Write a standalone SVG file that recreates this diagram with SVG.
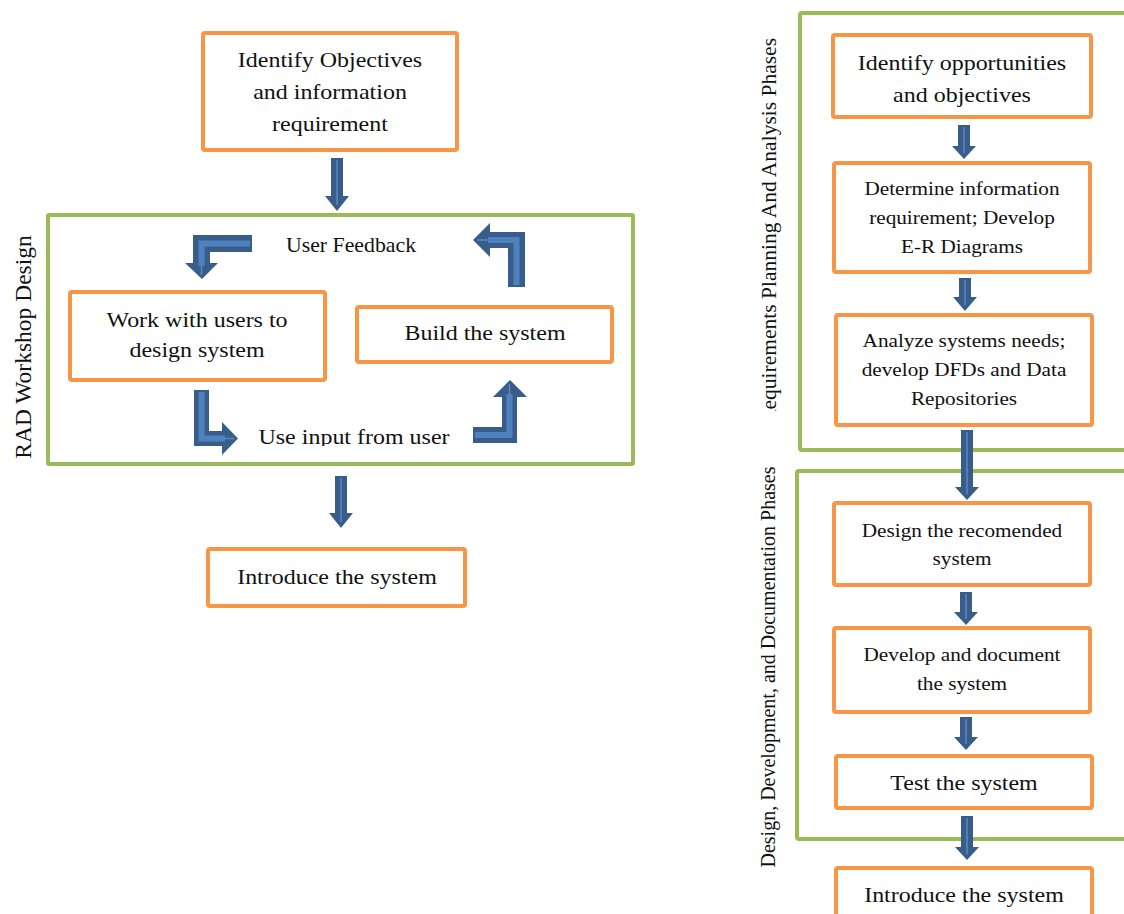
<svg xmlns="http://www.w3.org/2000/svg" width="1124" height="914" viewBox="0 0 1124 914">
<style>
.box{fill:#fff;stroke:#F79646;stroke-width:4}
.grp{fill:none;stroke:#9BBB59;stroke-width:4}
.t{font-family:"Liberation Serif","Times New Roman",serif;fill:#111;text-anchor:middle}
.f22{font-size:22px}
.f20{font-size:20px}
.f19{font-size:19.5px}
.arr{fill:#385D8A}
.str{fill:none;stroke:#4F81BD;stroke-width:6;stroke-linejoin:miter}
.ln{fill:none;stroke:#5B87C2;stroke-width:1.5}
</style>
<defs>
<clipPath id="clipReq"><rect x="740" y="0" width="60" height="411"/></clipPath>
<clipPath id="clipUse"><rect x="240" y="400" width="240" height="46"/></clipPath>
</defs>
<rect width="1124" height="914" fill="#fff"/>

<g id="groups">
<rect id="rad-group" class="grp" x="48" y="215" width="585" height="249" rx="1"/>
<rect id="req-group" class="grp" x="800" y="13" width="340" height="437" rx="2"/>
<rect id="dev-group" class="grp" x="797" y="471" width="343" height="368" rx="2"/>
</g>

<g id="labels">
<text class="t" font-size="23.5" transform="translate(31 347) rotate(-90)">RAD Workshop Design</text>
<g clip-path="url(#clipReq)"><text class="t" font-size="21.5" style="text-anchor:end" transform="translate(776 38) rotate(-90)">Requirements Planning And Analysis Phases</text></g>
<text class="t" font-size="20" transform="translate(775 667) rotate(-90)">Design, Development, and Documentation Phases</text>
</g>

<g id="connectors">
<polygon class="arr" points="331,158 343,158 343,196 349,196 337,211 325,196 331,196"/>
<line class="ln" x1="337" y1="160" x2="337" y2="205"/>
<polygon class="arr" points="335,476 347,476 347,513 353,513 341,528 329,513 335,513"/>
<line class="ln" x1="341" y1="478" x2="341" y2="522"/>
<polygon class="arr" points="252,235 252,252 210,252 210,263 218,263 202,279 185,263 193,263 193,235"/>
<polyline class="str" points="250,243.5 201.5,243.5 201.5,266"/>
<line class="ln" x1="201.5" y1="266" x2="201.5" y2="275"/>
<polygon class="arr" points="508,287 525,287 525,232 490,232 490,223 473,240 490,257 490,248 508,248"/>
<polyline class="str" points="516.5,285 516.5,240 488,240"/>
<line class="ln" x1="488" y1="240" x2="477" y2="240"/>
<polygon class="arr" points="194,390 209,390 209,431 222,431 222,422 238,438.5 222,455 222,446 194,446"/>
<polyline class="str" points="201.5,392 201.5,438.5 225,438.5"/>
<line class="ln" x1="225" y1="438.5" x2="234" y2="438.5"/>
<polygon class="arr" points="473,427 502,427 502,397 493,397 510,380 527,397 517,397 517,443 473,443"/>
<polyline class="str" points="475,435 509.5,435 509.5,394"/>
<line class="ln" x1="509.5" y1="394" x2="509.5" y2="384"/>
<polygon class="arr" points="958,125 970,125 970,146 976,146 964,159 952,146 958,146"/>
<line class="ln" x1="964" y1="127" x2="964" y2="153"/>
<polygon class="arr" points="959,278 971,278 971,297 977,297 965,311 953,297 959,297"/>
<line class="ln" x1="965" y1="280" x2="965" y2="305"/>
<polygon class="arr" points="961,430 973,430 973,487 979,487 967,500 955,487 961,487"/>
<line class="ln" x1="967" y1="432" x2="967" y2="494"/>
<polygon class="arr" points="960,592 972,592 972,612 978,612 966,625 954,612 960,612"/>
<line class="ln" x1="966" y1="594" x2="966" y2="619"/>
<polygon class="arr" points="960,717 972,717 972,737 978,737 966,750 954,737 960,737"/>
<line class="ln" x1="966" y1="719" x2="966" y2="744"/>
<polygon class="arr" points="961,816 973,816 973,847 979,847 967,860 955,847 961,847"/>
<line class="ln" x1="967" y1="818" x2="967" y2="854"/>
</g>

<g id="identify-objectives">
<rect class="box" x="203" y="33" width="254" height="117" rx="2"/>
<text class="t f22" transform="matrix(1.09 0 0 1 330 67)"><tspan x="0" y="0">Identify Objectives</tspan><tspan x="0" y="32">and information</tspan><tspan x="0" y="64">requirement</tspan></text>
</g>

<g id="user-feedback">
<text class="t f20" transform="matrix(1.09 0 0 1 351 252)">User Feedback</text>
</g>

<g id="work-with-users">
<rect class="box" x="70" y="292" width="255" height="88" rx="2"/>
<text class="t f22" transform="matrix(1.09 0 0 1 197 327)"><tspan x="0" y="0">Work with users to</tspan><tspan x="0" y="30">design system</tspan></text>
</g>

<g id="build-system">
<rect class="box" x="357" y="307" width="255" height="55" rx="2"/>
<text class="t f22" transform="matrix(1.09 0 0 1 485 340)">Build the system</text>
</g>

<g id="use-input">
<g clip-path="url(#clipUse)"><text class="t f22" transform="matrix(1.09 0 0 1 354 444)">Use input from user</text></g>
</g>

<g id="introduce-left">
<rect class="box" x="208" y="549" width="257" height="57" rx="2"/>
<text class="t f22" transform="matrix(1.09 0 0 1 337 584)">Introduce the system</text>
</g>

<g id="identify-opportunities">
<rect class="box" x="833" y="35" width="258" height="82" rx="2"/>
<text class="t f22" transform="matrix(1.09 0 0 1 962 70)"><tspan x="0" y="0">Identify opportunities</tspan><tspan x="0" y="32">and objectives</tspan></text>
</g>

<g id="determine-info">
<rect class="box" x="834" y="163" width="256" height="109" rx="2"/>
<text class="t f19" transform="matrix(1.09 0 0 1 962 195)"><tspan x="0" y="0">Determine information</tspan><tspan x="0" y="29">requirement; Develop</tspan><tspan x="0" y="58">E-R Diagrams</tspan></text>
</g>

<g id="analyze-needs">
<rect class="box" x="836" y="315" width="256" height="110" rx="2"/>
<text class="t f19" transform="matrix(1.09 0 0 1 964 347)"><tspan x="0" y="0">Analyze systems needs;</tspan><tspan x="0" y="29">develop DFDs and Data</tspan><tspan x="0" y="58">Repositories</tspan></text>
</g>

<g id="design-recommended">
<rect class="box" x="834" y="503" width="256" height="82" rx="2"/>
<text class="t f19" transform="matrix(1.09 0 0 1 962 537)"><tspan x="0" y="0">Design the recomended</tspan><tspan x="0" y="28">system</tspan></text>
</g>

<g id="develop-document">
<rect class="box" x="834" y="628" width="256" height="84" rx="2"/>
<text class="t f19" transform="matrix(1.09 0 0 1 962 661)"><tspan x="0" y="0">Develop and document</tspan><tspan x="0" y="29">the system</tspan></text>
</g>

<g id="test-system">
<rect class="box" x="836" y="756" width="256" height="52" rx="2"/>
<text class="t f22" transform="matrix(1.09 0 0 1 964 790)">Test the system</text>
</g>

<g id="introduce-right">
<rect class="box" x="836" y="868" width="256" height="60" rx="2"/>
<text class="t f22" transform="matrix(1.09 0 0 1 964 902)">Introduce the system</text>
</g>
</svg>
